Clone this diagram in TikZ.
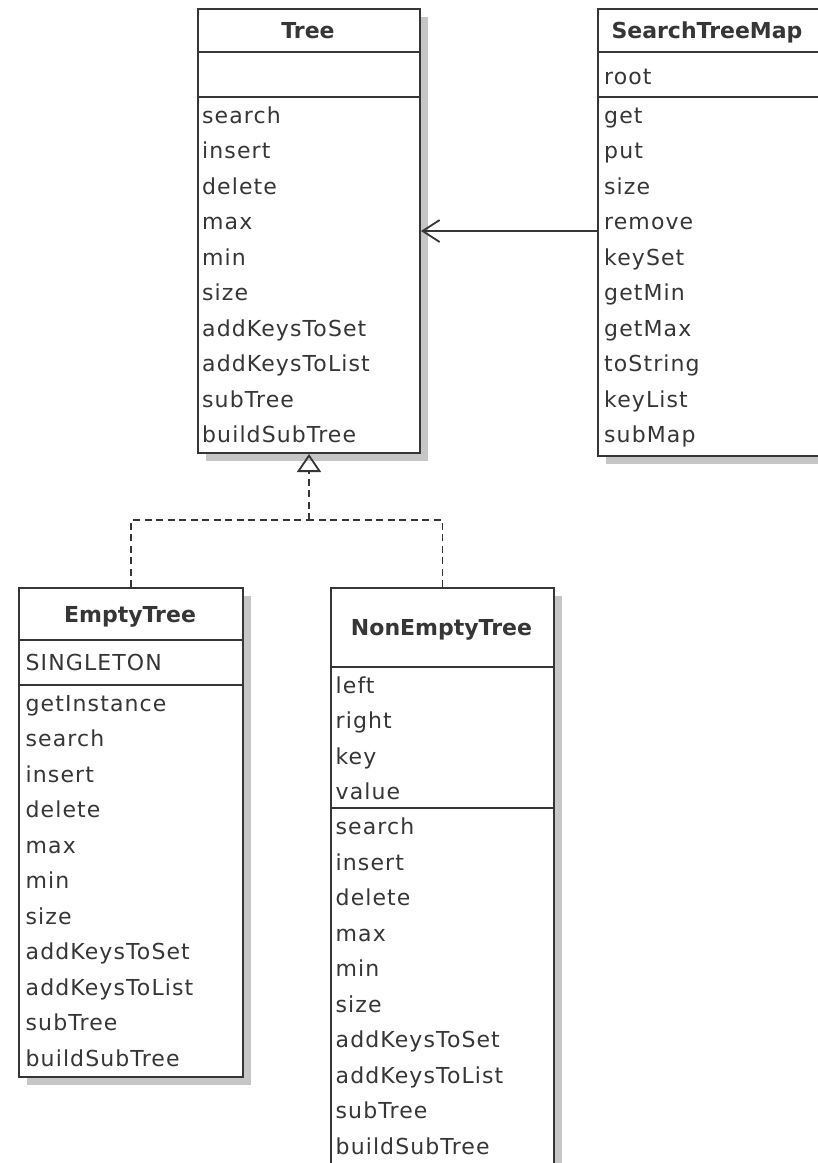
\documentclass[tikz,border=0pt]{standalone}
\usepackage{fontspec}
\usetikzlibrary{arrows.meta,shadows}
\newfontfamily\membfont[LetterSpace=5]{DejaVu Sans}
\newfontfamily\namefont{DejaVu Sans}
\definecolor{ink}{HTML}{363636}
\definecolor{shade}{HTML}{C6C6C6}

\begin{document}
\begin{tikzpicture}[x=1pt,y=-1pt,
  classbox/.style={draw=ink, line width=2pt, fill=white, rectangle,
    anchor=north west, inner sep=0pt,
    drop shadow={shadow xshift=8pt, shadow yshift=-8pt, fill=shade, opacity=1}},
  sepline/.style={draw=ink, line width=2pt},
  member/.style={anchor=base west, inner sep=0pt, text=ink,
    font=\membfont\fontsize{22}{26}\selectfont},
  classname/.style={anchor=base, inner sep=0pt, text=ink,
    font=\namefont\bfseries\fontsize{22}{26}\selectfont},
  assoc/.style={draw=ink, line width=1.8pt,
    -{Straight Barb[length=17pt, width=22pt, line width=1.8pt]}},
  realize/.style={draw=ink, line width=1.8pt, dash pattern=on 7pt off 4.5pt},
  genhead/.style={draw=ink, line width=1.8pt,
    -{Triangle[open, length=18pt, width=24pt, line width=1.8pt]}}]

\clip (0,0) rectangle (818,1163);
\useasboundingbox (0,0) rectangle (818,1163);
\fill[white] (0,0) rectangle (818,1163);

% ---------- Tree ----------
\node[classbox, minimum width=222pt, minimum height=444pt] (tree) at (197,8) {};
\draw[sepline] (tree.west |- 0,52) -- (tree.east |- 0,52);
\draw[sepline] (tree.west |- 0,97) -- (tree.east |- 0,97);
\node[classname] (treename) at (308,38) {Tree};
\foreach \t [count=\i from 0] in {search,insert,delete,max,min,size,
    addKeysToSet,addKeysToList,subTree,buildSubTree}
  \node[member] (treem\i) at (202,{123+35.5*\i}) {\t};

% ---------- SearchTreeMap ----------
\node[classbox, minimum width=233pt, minimum height=447pt] (stm) at (597,8) {};
\draw[sepline] (stm.west |- 0,52) -- (stm.east |- 0,52);
\draw[sepline] (stm.west |- 0,97) -- (stm.east |- 0,97);
\node[classname] (stmname) at (707,38) {SearchTreeMap};
\node[member] (stma0) at (604,84) {root};
\foreach \t [count=\i from 0] in {get,put,size,remove,keySet,getMin,getMax,
    toString,keyList,subMap}
  \node[member] (stmm\i) at (604,{123+35.5*\i}) {\t};

% ---------- EmptyTree ----------
\node[classbox, minimum width=224pt, minimum height=489pt] (empty) at (18,587) {};
\draw[sepline] (empty.west |- 0,640) -- (empty.east |- 0,640);
\draw[sepline] (empty.west |- 0,685) -- (empty.east |- 0,685);
\node[classname] (emptyname) at (130,622) {EmptyTree};
\node[member] (emptya0) at (25.5,670) {SINGLETON};
\foreach \t [count=\i from 0] in {getInstance,search,insert,delete,max,min,size,
    addKeysToSet,addKeysToList,subTree,buildSubTree}
  \node[member] (emptym\i) at (25.5,{711+35.5*\i}) {\t};

% ---------- NonEmptyTree ----------
\node[classbox, minimum width=223pt, minimum height=640pt] (nonempty) at (330,587) {};
\draw[sepline] (nonempty.west |- 0,667) -- (nonempty.east |- 0,667);
\draw[sepline] (nonempty.west |- 0,808) -- (nonempty.east |- 0,808);
\node[classname] (nonemptyname) at (441.5,635) {NonEmptyTree};
\foreach \t [count=\i from 0] in {left,right,key,value}
  \node[member] (nonemptya\i) at (335.5,{693+35.5*\i}) {\t};
\foreach \t [count=\i from 0] in {search,insert,delete,max,min,size,
    addKeysToSet,addKeysToList,subTree,buildSubTree}
  \node[member] (nonemptym\i) at (335.5,{834.5+35.5*\i}) {\t};

% ---------- connectors ----------
\draw[assoc] (stm.west |- tree.east) -- (tree.east);

\coordinate (gen) at (tree.south |- 0,520);
\draw[realize] (empty.north) |- (gen);
\draw[realize] (nonempty.north) |- (gen);
\draw[realize] (gen) -- ([yshift=-18pt]tree.south);
\draw[genhead] ([yshift=-17pt]tree.south) -- (tree.south);

\end{tikzpicture}
\end{document}
